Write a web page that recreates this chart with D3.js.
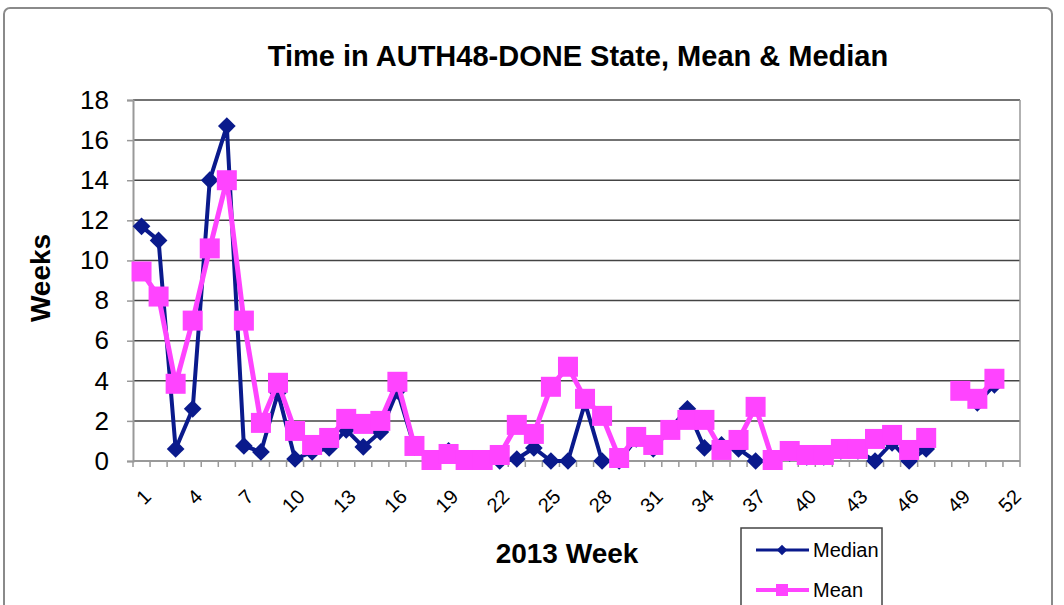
<!DOCTYPE html>
<html>
<head>
<meta charset="utf-8">
<script src="https://cdn.jsdelivr.net/npm/d3@7"></script>
<style>
  body { margin: 0; background: #fff; }
  svg { font-family: "Liberation Sans", Arial, sans-serif; }
</style>
</head>
<body>
<div id="chart"></div>
<script>
const width = 1064;
const height = 605;

// data (null = no point that week)
const weeks = d3.range(1, 53);
const median = [11.7, 11.0, 0.6, 2.6, 14.0, 16.7, 0.75, 0.45, 3.4, 0.1, 0.45, 0.65, 1.55, 0.7, 1.45, 3.5, 0.7, 0, 0.5, 0, 0, 0, 0.1, 0.65, 0, 0, 2.9, 0, 0, 1.1, 0.6, 1.6, 2.6, 0.65, 0.8, 0.6, 0, 0, 0.4, 0.2, 0.2, 0.5, 0.5, 0, 0.9, 0, 0.6, null, 3.5, 2.9, 3.8, null];
const mean = [9.45, 8.2, 3.85, 7.0, 10.6, 14.0, 7.0, 1.9, 3.9, 1.5, 0.8, 1.15, 2.1, 1.85, 2.0, 3.95, 0.75, 0.05, 0.35, 0.05, 0.05, 0.3, 1.8, 1.35, 3.7, 4.7, 3.1, 2.25, 0.15, 1.2, 0.8, 1.55, 2.05, 2.05, 0.55, 1.05, 2.7, 0.05, 0.5, 0.3, 0.3, 0.6, 0.6, 1.1, 1.3, 0.55, 1.15, null, 3.5, 3.1, 4.1, null];
const yTicks = d3.range(0, 19, 2);
const xLabels = weeks.filter(w => (w - 1) % 3 === 0);

const medianColor = "#0a1a8c";
const meanColor = "#ff44ff";

const svg = d3.select("#chart").append("svg").attr("width", width).attr("height", height);

// outer chart frame
svg.append("rect").attr("x", 4).attr("y", 8).attr("width", 1048).attr("height", 700).attr("rx", 6)
  .attr("fill", "none").attr("stroke", "#8a8a8a").attr("stroke-width", 2);

const plotLeft = 133, plotRight = 1020, plotTop = 100, plotBottom = 461;
const x = d3.scaleBand().domain(weeks).range([plotLeft, plotRight]).padding(0);
const y = d3.scaleLinear().domain([0, 18]).range([plotBottom, plotTop]);

// gridlines
svg.append("g").selectAll("line").data(yTicks.filter(d => d > 0)).join("line")
  .attr("x1", plotLeft).attr("x2", plotRight).attr("y1", d => y(d)).attr("y2", d => y(d))
  .attr("stroke", "#444").attr("stroke-width", 1.5);

// plot area right border
svg.append("line").attr("x1", plotRight).attr("x2", plotRight).attr("y1", plotTop).attr("y2", plotBottom)
  .attr("stroke", "#999").attr("stroke-width", 1.5);

// y axis
const yAxis = svg.append("g").attr("transform", `translate(${plotLeft},0)`)
  .call(d3.axisLeft(y).tickValues(yTicks).tickSize(6).tickPadding(18));
yAxis.select(".domain").attr("stroke", "#999").attr("stroke-width", 2);
yAxis.selectAll(".tick line").attr("stroke", "#999").attr("stroke-width", 1.5);
yAxis.selectAll(".tick text").attr("font-size", 26).attr("fill", "#000")
  .attr("font-family", "Liberation Sans, Arial, sans-serif");

// x axis line + category boundary ticks
const bounds = weeks.map(w => x(w)).concat([plotRight]);
svg.append("line").attr("x1", plotLeft).attr("x2", plotRight).attr("y1", plotBottom).attr("y2", plotBottom)
  .attr("stroke", "#999").attr("stroke-width", 2);
svg.append("g").selectAll("line").data(bounds).join("line")
  .attr("x1", d => d).attr("x2", d => d).attr("y1", plotBottom).attr("y2", plotBottom + 6)
  .attr("stroke", "#999").attr("stroke-width", 1.5);

// x labels, rotated
svg.append("g").selectAll("text").data(xLabels).join("text")
  .attr("transform", d => `translate(${x(d) + x.bandwidth() / 2 + 6},${plotBottom + 32}) rotate(-45)`)
  .attr("text-anchor", "end").attr("dy", "0.35em")
  .attr("font-size", 20).text(d => d);

// titles
svg.append("text").attr("x", 578).attr("y", 66).attr("text-anchor", "middle")
  .attr("font-size", 29).attr("font-weight", "bold").text("Time in AUTH48-DONE State, Mean & Median");
svg.append("text").attr("x", 567).attr("y", 563).attr("text-anchor", "middle")
  .attr("font-size", 28).attr("font-weight", "bold").text("2013 Week");
svg.append("text").attr("transform", "translate(50,278) rotate(-90)").attr("text-anchor", "middle")
  .attr("font-size", 28).attr("font-weight", "bold").text("Weeks");

const cx = w => x(w) + x.bandwidth() / 2;
const line = d3.line().defined(d => d.v !== null).x(d => cx(d.w)).y(d => y(d.v));

const medianPts = weeks.map((w, i) => ({ w: w, v: median[i] }));
const meanPts = weeks.map((w, i) => ({ w: w, v: mean[i] }));

const diamond = d3.symbol().type(d3.symbolDiamond2).size(200);

// median series
svg.append("path").datum(medianPts).attr("d", line).attr("fill", "none")
  .attr("stroke", medianColor).attr("stroke-width", 4).attr("stroke-linejoin", "round");
svg.append("g").selectAll("path").data(medianPts.filter(d => d.v !== null)).join("path")
  .attr("d", diamond).attr("transform", d => `translate(${cx(d.w)},${y(d.v)})`)
  .attr("fill", medianColor);

// mean series
svg.append("path").datum(meanPts).attr("d", line).attr("fill", "none")
  .attr("stroke", meanColor).attr("stroke-width", 5).attr("stroke-linejoin", "round");
svg.append("g").selectAll("rect").data(meanPts.filter(d => d.v !== null)).join("rect")
  .attr("x", d => cx(d.w) - 10).attr("y", d => y(d.v) - 10).attr("width", 20).attr("height", 20)
  .attr("fill", meanColor);

// legend
const lg = svg.append("g");
lg.append("rect").attr("x", 741).attr("y", 528).attr("width", 141).attr("height", 100)
  .attr("fill", "#fff").attr("stroke", "#444").attr("stroke-width", 1.5);
const items = [{ name: "Median", color: medianColor, y: 550 }, { name: "Mean", color: meanColor, y: 590 }];
items.forEach(it => {
  lg.append("line").attr("x1", 756).attr("x2", 809).attr("y1", it.y).attr("y2", it.y)
    .attr("stroke", it.color).attr("stroke-width", it.name === "Mean" ? 4 : 3);
  if (it.name === "Median") {
    lg.append("path").attr("d", d3.symbol().type(d3.symbolDiamond2).size(70))
      .attr("transform", `translate(782,${it.y})`).attr("fill", it.color);
  } else {
    lg.append("rect").attr("x", 776).attr("y", it.y - 6).attr("width", 12).attr("height", 12).attr("fill", it.color);
  }
  lg.append("text").attr("x", 813).attr("y", it.y).attr("dy", "0.35em")
    .attr("font-size", 20).text(it.name);
});
</script>
</body>
</html>
